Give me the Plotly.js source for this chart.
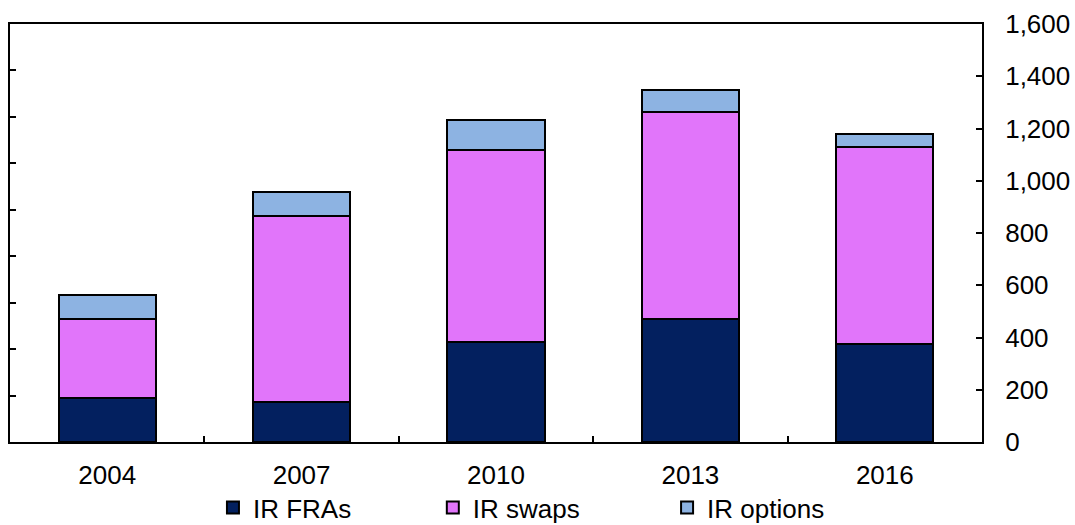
<!DOCTYPE html>
<html>
<head>
<meta charset="utf-8">
<script src="https://cdn.plot.ly/plotly-3.0.1.min.js"></script>
<style>
  html, body { margin: 0; padding: 0; background: #ffffff; }
  #chart { width: 1075px; height: 525px; }
</style>
</head>
<body>
<div id="chart"></div>
<script>
// Survey years
const years = ['2004', '2007', '2010', '2013', '2016'];

// Turnover by instrument (stacked bottom to top)
const irFRAs = [170, 153, 382, 471, 375];
const irSwaps = [299, 711, 735, 794, 755];
const irOptions = [94, 92, 115, 81, 50];

const seriesNames = ['IR FRAs', 'IR swaps', 'IR options'];
const seriesColors = ['#03205f', '#e175fa', '#8db3e2'];
const seriesValues = [irFRAs, irSwaps, irOptions];
const legendIds = ['legend', 'legend2', 'legend3'];
const legendX = [0.2088, 0.435, 0.676];

const FONT = 'Liberation Sans, Arial, sans-serif';
const LINE_W = 2;

const traces = seriesValues.map((vals, i) => ({
  type: 'bar',
  name: seriesNames[i],
  x: years,
  y: vals,
  legend: legendIds[i],
  marker: { color: seriesColors[i], line: { color: '#000000', width: LINE_W } },
  hoverinfo: 'x+y+name'
}));

// Empty trace so the secondary left-hand axis (ticks only) is created
traces.push({
  type: 'scatter',
  x: [],
  y: [],
  yaxis: 'y2',
  showlegend: false,
  hoverinfo: 'skip'
});

const legendBase = {
  orientation: 'h',
  xanchor: 'left',
  yanchor: 'middle',
  y: 0.033,
  yref: 'container',
  bgcolor: 'rgba(0,0,0,0)',
  font: { family: FONT, size: 26, color: '#000000' },
  itemclick: false,
  itemdoubleclick: false
};

const axisLine = {
  showline: true,
  linecolor: '#000000',
  linewidth: LINE_W,
  ticks: 'inside',
  ticklen: 6,
  tickwidth: LINE_W,
  tickcolor: '#000000',
  showgrid: false,
  zeroline: false
};

const layout = {
  width: 1075,
  height: 525,
  margin: { l: 10, r: 93, t: 24, b: 83 },
  paper_bgcolor: '#ffffff',
  plot_bgcolor: '#ffffff',
  font: { family: FONT, size: 26, color: '#000000' },
  barmode: 'stack',
  bargap: 0.5,
  showlegend: true,
  legend: Object.assign({}, legendBase, { x: legendX[0] }),
  legend2: Object.assign({}, legendBase, { x: legendX[1] }),
  legend3: Object.assign({}, legendBase, { x: legendX[2] }),
  xaxis: Object.assign({}, axisLine, {
    type: 'category',
    range: [-0.5, 4.5],
    mirror: true,
    tickson: 'boundaries',
    ticklabelstandoff: 9,
    tickfont: { family: FONT, size: 26, color: '#000000' }
  }),
  yaxis: Object.assign({}, axisLine, {
    side: 'right',
    range: [0, 1600],
    dtick: 200,
    tick0: 0,
    tickformat: ',',
    ticklabelstandoff: 16,
    tickfont: { family: FONT, size: 26, color: '#000000' }
  }),
  yaxis2: Object.assign({}, axisLine, {
    overlaying: 'y',
    side: 'left',
    range: [0, 9],
    dtick: 1,
    tick0: 0,
    showticklabels: false
  })
};

Plotly.newPlot('chart', traces, layout, { displayModeBar: false, staticPlot: true });
</script>
</body>
</html>
